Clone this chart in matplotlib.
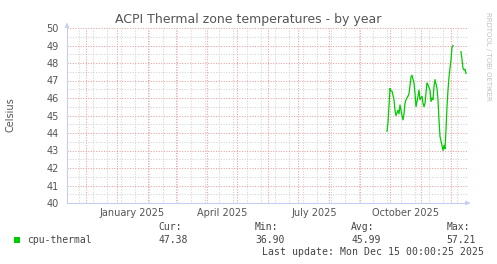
import numpy as np
import pandas as pd
import matplotlib
matplotlib.use('Agg')
import matplotlib.pyplot as plt
from matplotlib.patches import Rectangle

# daily averages (NaN = no data)
dates = ['2025-09-28', '2025-09-29', '2025-10-01', '2025-10-02', '2025-10-03',
         '2025-10-05', '2025-10-06', '2025-10-07', '2025-10-09', '2025-10-10',
         '2025-10-11', '2025-10-13', '2025-10-14', '2025-10-15', '2025-10-16',
         '2025-10-17', '2025-10-19', '2025-10-20', '2025-10-21', '2025-10-22',
         '2025-10-23', '2025-10-25', '2025-10-26', '2025-10-27', '2025-10-29',
         '2025-10-30', '2025-10-31', '2025-11-02', '2025-11-03', '2025-11-04',
         '2025-11-05', '2025-11-06', '2025-11-07', '2025-11-08', '2025-11-10',
         '2025-11-11', '2025-11-12', '2025-11-13', '2025-11-14', '2025-11-15',
         '2025-11-17', '2025-11-18', '2025-11-19', '2025-11-20', '2025-11-22',
         '2025-11-23', '2025-11-24', '2025-11-25', '2025-11-26', '2025-11-27',
         '2025-11-28', '2025-11-29', '2025-12-01', '2025-12-02', '2025-12-03',
         '2025-12-07', '2025-12-11', '2025-12-12', '2025-12-13', '2025-12-14',
         '2025-12-15', '2025-12-16']
temps = [44.1, 44.6, 46.55, 46.4, 46.4,
         45.9, 45.3, 45.0, 45.3, 45.1,
         45.6, 45.0, 44.75, 45.1, 45.7,
         45.9, 46.1, 46.25, 46.7, 47.2,
         47.3, 46.85, 46.25, 45.5, 46.1,
         46.45, 45.9, 46.1, 45.7, 45.5,
         45.7, 46.3, 46.85, 46.75, 46.45,
         45.8, 46.0, 45.9, 46.65, 47.05,
         46.55, 45.9, 44.75, 43.8, 43.3,
         43.0, 43.3, 43.1, 44.2, 45.5,
         46.45, 47.2, 48.2, 48.9, 49.0,
         np.nan, 48.65, 48.2, 47.7, 47.6,
         47.65, 47.4]

x_start = '2024-11-12'
x_end = '2025-12-17'
month_labels = ['January 2025', 'April 2025', 'July 2025', 'October 2025']
month_label_dates = ['2025-01-16', '2025-04-16', '2025-07-17', '2025-10-17']

legend_name = 'cpu-thermal'
stat_names = ['Cur:', 'Min:', 'Avg:', 'Max:']
stat_values = ['47.38', '36.90', '45.99', '57.21']
last_update = 'Last update: Mon Dec 15 00:00:25 2025'

W, H = 497, 264
fig = plt.figure(figsize=(W / 100, H / 100), dpi=100)
fig.patch.set_facecolor('white')
ax = fig.add_axes([67 / W, 61 / H, 400 / W, 175 / H])

red = '#eaa0a0'
grey = '#d2d2d2'
axis_col = '#c8cdf5'
txt = '#555555'

# grid lines
for d in pd.date_range('2024-11-24', x_end, freq='14D'):
    ax.axvline(d, color=grey, lw=0.75, ls=(0, (1, 1.5)), zorder=1)
for d in pd.date_range('2024-11-01', x_end, freq='MS'):
    ax.axvline(d, color=red, lw=0.75, ls=(0, (1, 1.5)), zorder=2)
for v in np.arange(40.5, 50, 1.0):
    ax.axhline(v, color=grey, lw=0.75, ls=(0, (1, 1.5)), zorder=1)
for v in np.arange(41, 51, 1.0):
    ax.axhline(v, color=red, lw=0.75, ls=(0, (1, 1.5)), zorder=2)

ax.plot(pd.to_datetime(dates), temps, color='#00cc00', lw=0.9, zorder=5)

ax.set_xlim(pd.Timestamp(x_start), pd.Timestamp(x_end))
ax.set_ylim(40, 50)
ax.set_yticks(range(40, 51))
ax.set_yticklabels([str(v) for v in range(40, 51)])
ax.tick_params(axis='y', length=0, pad=6, labelsize=7, labelcolor=txt)
ax.set_xticks([])
for s in ['top', 'right']:
    ax.spines[s].set_visible(False)
for s in ['left', 'bottom']:
    ax.spines[s].set_color(axis_col)
    ax.spines[s].set_linewidth(0.8)
ax.set_facecolor('white')

for lab, d in zip(month_labels, month_label_dates):
    ax.text(pd.Timestamp(d), -9.7 / 175, lab, transform=ax.get_xaxis_transform(),
            ha='center', va='center', fontsize=7, color=txt)

# axis arrows
ax.annotate('', xy=(67 / W, 1 - 20 / H), xytext=(67 / W, 1 - 28 / H), xycoords='figure fraction',
            arrowprops=dict(arrowstyle='-|>', color=axis_col, lw=0.8, mutation_scale=6))
ax.annotate('', xy=(473 / W, 61 / H), xytext=(466 / W, 61 / H), xycoords='figure fraction',
            arrowprops=dict(arrowstyle='-|>', color=axis_col, lw=0.8, mutation_scale=6))

fig.text(248 / W, 1 - 19 / H, 'ACPI Thermal zone temperatures - by year',
         ha='center', va='center', fontsize=9, color=txt)
fig.text(10 / W, 1 - 115 / H, 'Celsius', rotation=90, ha='center', va='center',
         fontsize=7, color=txt)
fig.text(488 / W, 1 - 56 / H, 'RRDTOOL / TOBI OETIKER', rotation=-90, ha='center',
         va='center', fontsize=5, color='#c0c0c0')

# legend
mono = 'DejaVu Sans Mono'
leg_col = '#444444'
fig.patches.append(Rectangle((14 / W, 1 - 243.3 / H), 6 / W, 6 / H, transform=fig.transFigure,
                             facecolor='#00cc00', edgecolor='none'))
fig.text(26.7 / W, 1 - 240 / H, legend_name, family=mono, fontsize=7, color=leg_col, va='center')
for i, (n, v) in enumerate(zip(stat_names, stat_values)):
    xs = [158.3, 255, 351, 446.7][i]
    fig.text(xs / W, 1 - 227.3 / H, n, family=mono, fontsize=7, color=leg_col, va='center')
    fig.text(xs / W, 1 - 240 / H, v, family=mono, fontsize=7, color=leg_col, va='center')
fig.text(261.7 / W, 1 - 251.7 / H, last_update, family=mono, fontsize=7.15, color=leg_col, va='center')

fig.savefig('out.png', dpi=100, facecolor='white')
